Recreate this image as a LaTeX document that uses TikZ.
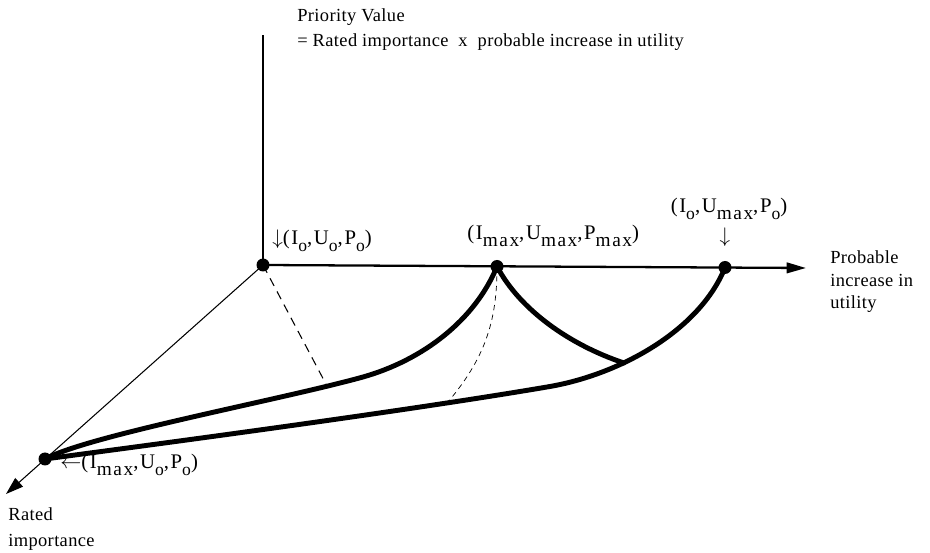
\documentclass[tikz,border=0pt]{standalone}
\usepackage{fontspec}
\setmainfont{Liberation Serif}[LetterSpace=2]
\newfontfamily\lblfont[LetterSpace=8]{Liberation Serif}
\usetikzlibrary{arrows.meta,positioning,calc}
\newcommand{\lsub}[1]{\raisebox{-3.8pt}{\fontsize{10}{10}\selectfont #1}}
\newcommand{\lmax}{\raisebox{-3.8pt}{\fontsize{11}{11}\selectfont max}}
\tikzset{
  pdot/.style={circle, fill=black, inner sep=0pt, minimum size=0.26cm},
  ptxt/.style={font=\fontsize{10.5}{13}\selectfont, inner sep=0pt},
  plbl/.style={font=\lblfont\fontsize{11.8}{14}\selectfont, inner sep=0pt},
  axln/.style={line width=1.5pt},
  axarr/.style={-{Triangle[length=11pt,width=6pt]}, line width=1.3pt},
  rayarr/.style={-{Triangle[length=10pt,width=6.5pt]}, line width=0.6pt},
  surf/.style={line width=2.8pt, line cap=round},
  proj/.style={line width=0.6pt, dash pattern=on 5pt off 3.5pt},
  projf/.style={line width=0.4pt, dash pattern=on 3pt off 2.5pt},
}

\begin{document}
\begin{tikzpicture}[x=0.02cm, y=-0.02cm]
  \useasboundingbox (0,0) rectangle (930,553);
  % axes
  \node[pdot] (o) at (263,265) {};
  \coordinate (vtop) at (263,35);
  \coordinate (htip) at (806,268);
  \coordinate (dtip) at (6,494);
  \draw[axln] (o.center) -- (vtop);
  \draw[axarr] (o.center) -- (htip);
  \draw[rayarr] (o.center) -- (dtip);
  % corner points
  \node[pdot] (pmax) at (497,266.5) {};
  \node[pdot] (umax) at (725,267.5) {};
  \node[pdot] (imax) at (45,459) {};
  % surface edges
  \coordinate (bend1) at (363,377);
  \coordinate (bend2) at (547,387);
  \coordinate (meet) at (624,363);
  \draw[surf] (imax.center) .. controls (90,435) and (280,400) .. (bend1) .. controls (423,360) and (475,320) .. (pmax.center);
  \draw[surf] (imax.center) .. controls (150,445) and (400,412) .. (bend2) .. controls (620,375) and (700,330) .. (umax.center);
  \draw[surf] (pmax.center) .. controls (520,310) and (570,345) .. (meet);
  % projections
  \coordinate (foot1) at (327,386);
  \coordinate (foot2) at (448,402);
  \draw[proj] (o.center) -- (foot1);
  \draw[projf] (pmax.center) to[bend left=20] (foot2);
  % labels
  \node[ptxt, anchor=base west] (pv) at (297,22) {Priority Value};
  \node[ptxt, anchor=base west] (pvdef) at (297,47) {= Rated importance\ \ x\ \ probable increase in utility};
  \node[ptxt, anchor=base west, align=left] (uaxis) at (830,309) {Probable\\increase in\\utility};
  \node[ptxt, font=\fontsize{10.5}{15.3}\selectfont, anchor=base west, align=left] (iaxis) at (8,547) {Rated\\importance};
  \node[plbl, anchor=base west] (olab) at (272,245) {$\downarrow$(I\lsub{o},U\lsub{o},P\lsub{o})};
  \node[plbl, anchor=base west] (plab) at (467,240) {(I\lmax,U\lmax,P\lmax)};
  \node[plbl, anchor=base] (ulab) at (729,213) {(I\lsub{o},U\lmax,P\lsub{o})};
  \node[plbl, below=4pt of ulab.south -| umax] (uarr) {$\downarrow$};
  \node[plbl, anchor=base west] (ilab) at (60,469) {$\leftarrow$(I\lmax,U\lsub{o},P\lsub{o})};
\end{tikzpicture}
\end{document}
